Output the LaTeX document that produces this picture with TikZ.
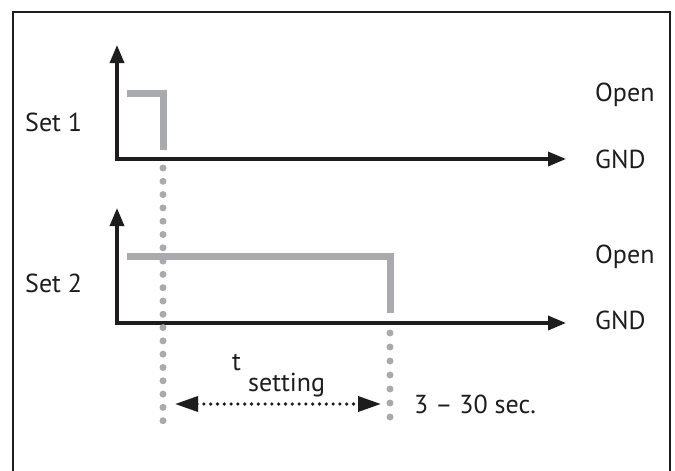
\documentclass[tikz,border=0pt]{standalone}
\usepackage{fontspec}
\setmainfont{PT Sans}
\usetikzlibrary{arrows.meta}
\definecolor{siggray}{RGB}{168,170,173}
\definecolor{ink}{RGB}{30,28,29}
\begin{document}
\begin{tikzpicture}[x=1pt,y=-1pt,
  axis/.style={draw=ink,line width=3.4pt,-{Triangle[length=18pt,width=14pt]}},
  signal/.style={draw=siggray,line width=7pt},
  dotcol/.style={draw=siggray,line width=7pt,line cap=round,dash pattern=on 0pt off 13.3pt},
  dim/.style={draw=ink,line width=3.6pt,line cap=round,dash pattern=on 0pt off 6.8pt,
     {Triangle[length=23pt,width=15pt]}-{Triangle[length=23pt,width=15pt]}},
  lbl/.style={anchor=base west,inner sep=0pt,text=ink,font=\fontsize{26}{30}\selectfont}]
\useasboundingbox (0,0) rectangle (675,471);
\draw[ink,line width=2pt] (13,471) -- (13,12) -- (670,12) -- (670,471);
% Set 1
\coordinate (o1) at (117,159);
\coordinate (y1) at (117,45);
\coordinate (x1) at (566,159);
\draw[axis] (o1) -- (y1);
\draw[axis] ([xshift=-1.7pt]o1) -- (x1);
\draw[signal] (127,93) -| (163,150);
% Set 2
\coordinate (o2) at (117,323);
\coordinate (y2) at (117,208);
\coordinate (x2) at (566,323);
\draw[axis] (o2) -- (y2);
\draw[axis] ([xshift=-1.7pt]o2) -- (x2);
\draw[signal] (127,256) -| (390,313);
% dotted verticals
\coordinate (d1a) at (163,168);
\coordinate (d1b) at (163,432);
\coordinate (d2a) at (390,333);
\coordinate (d2b) at (390,431);
\draw[dotcol] (d1a) -- (d1b);
\draw[dotcol,dash pattern=on 0pt off 14pt] (d2a) -- (d2b);
% dimension arrow
\coordinate (ta) at (175,404);
\coordinate (tb) at (381,404);
\draw[dim] (ta) -- (tb);
% labels
\node[lbl] (s1) at (25,131) {Set 1};
\node[lbl] (s2) at (25,292) {Set 2};
\node[lbl] (op1) at (595,101) {Open};
\node[lbl] (g1) at (595,168) {GND};
\node[lbl] (op2) at (595,263) {Open};
\node[lbl] (g2) at (595,329) {GND};
\node[lbl] (t) at (232,370) {t};
\node[lbl] (set) at (248,391) {setting};
\node[lbl] (sec) at (414,413) {3 – 30 sec.};
\end{tikzpicture}
\end{document}
